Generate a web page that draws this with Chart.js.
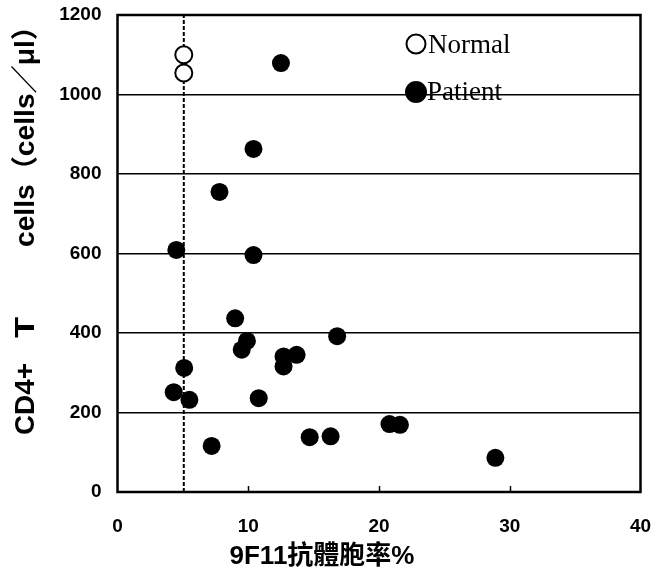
<!DOCTYPE html>
<html>
<head>
<meta charset="utf-8">
<script src="https://cdn.jsdelivr.net/npm/chart.js@4.4.1/dist/chart.umd.min.js"></script>
<style>
  html, body { margin: 0; padding: 0; background: #fff; }
  #c { display: block; }
</style>
</head>
<body>
<canvas id="c" width="651" height="583"></canvas>
<script>
// ---- data ----
const normalX = [5.07, 5.07];
const normalY = [1100, 1054];

const patientX = [12.5, 10.4, 7.8, 4.5, 10.4, 9.0, 9.9, 9.5, 12.7, 13.7, 12.7, 16.8, 5.1, 4.3, 5.5, 10.8, 7.2, 14.7, 16.3, 20.8, 21.6, 28.9];
const patientY = [1079, 863, 755, 609, 596, 437, 380, 358, 341, 345, 316, 392, 312, 251, 232, 236, 116, 138, 140, 171, 169, 86];

const cutoffX = 5.07;          // dashed vertical line
const xTicks = [0, 10, 20, 30, 40];
const yTicks = [0, 200, 400, 600, 800, 1000, 1200];

const xTitle = "9F11抗體胞率%";
const yTitleParts = ["CD4+", "T", "cells\uFF08cells\uFF0F\u03BCl\uFF09"];
const legendNames = ["Normal", "Patient"];

const toPts = (xs, ys) => xs.map((x, i) => ({ x: x, y: ys[i] }));

// draw text rotated, squeezed/stretched to a given length
function vText(c, txt, cx, yFrom, yTo) {
  const w = c.measureText(txt).width;
  const len = yFrom - yTo;
  c.save();
  c.translate(cx, (yFrom + yTo) / 2);
  c.rotate(-Math.PI / 2);
  c.scale(len / w, 1);
  c.fillText(txt, 0, 0);
  c.restore();
}

// frame, inner ticks, titles and the in-plot legend
const decor = {
  id: "decor",
  afterDraw(chart) {
    const c = chart.ctx;
    const a = chart.chartArea;
    const xs = chart.scales.x;
    c.save();
    c.strokeStyle = "#000";
    c.lineWidth = 2.5;
    c.strokeRect(a.left, a.top, a.right - a.left, a.bottom - a.top);

    // short inward ticks on the bottom axis
    c.lineWidth = 1.5;
    xTicks.slice(1, -1).forEach(v => {
      const px = Math.round(xs.getPixelForValue(v)) + 0.5;
      c.beginPath();
      c.moveTo(px, a.bottom);
      c.lineTo(px, a.bottom - 6);
      c.stroke();
    });

    // x title
    c.fillStyle = "#000";
    c.textAlign = "center";
    c.textBaseline = "middle";
    c.font = "bold 26px 'Liberation Sans', 'Noto Sans CJK TC', sans-serif";
    c.fillText(xTitle, 322, 557);

    // y title, in three pieces as spaced in the original
    c.font = "bold 27px 'Liberation Sans', 'Noto Sans CJK JP', sans-serif";
    vText(c, yTitleParts[0], 27, 435, 363);
    vText(c, yTitleParts[1], 27, 338, 317);
    vText(c, yTitleParts[2], 27, 247, 12);

    // legend
    c.textAlign = "left";
    c.textBaseline = "alphabetic";
    c.font = "27px 'Liberation Serif', serif";
    c.lineWidth = 2;
    c.beginPath();
    c.arc(416, 44, 9.5, 0, Math.PI * 2);
    c.fillStyle = "#fff";
    c.fill();
    c.stroke();
    c.fillStyle = "#000";
    c.fillText(legendNames[0], 428, 53);

    c.beginPath();
    c.arc(416, 92, 11, 0, Math.PI * 2);
    c.fill();
    c.fillText(legendNames[1], 427, 100);
    c.restore();
  }
};

const tickFont = { family: "'Liberation Sans', Arial, sans-serif", size: 19, weight: "bold" };

new Chart(document.getElementById("c"), {
  type: "scatter",
  data: {
    datasets: [
      {
        label: legendNames[1],
        data: toPts(patientX, patientY),
        backgroundColor: "#000",
        borderColor: "#000",
        pointRadius: 9,
        borderWidth: 0,
        order: 1
      },
      {
        label: legendNames[0],
        data: toPts(normalX, normalY),
        backgroundColor: "#fff",
        borderColor: "#000",
        pointRadius: 8.5,
        borderWidth: 2,
        order: 2
      },
      {
        type: "line",
        label: "cutoff",
        data: [{ x: cutoffX, y: yTicks[0] }, { x: cutoffX, y: yTicks[yTicks.length - 1] }],
        borderColor: "#000",
        borderWidth: 2,
        borderDash: [4, 2],
        pointRadius: 0,
        order: 3
      }
    ]
  },
  options: {
    responsive: false,
    animation: false,
    layout: { padding: { top: 15, right: 9, left: 0, bottom: 0 } },
    plugins: { legend: { display: false }, tooltip: { enabled: false } },
    scales: {
      x: {
        type: "linear",
        min: xTicks[0],
        max: xTicks[xTicks.length - 1],
        afterBuildTicks: s => { s.ticks = xTicks.map(v => ({ value: v })); },
        afterFit: s => { s.height = 91; s.paddingLeft = 0; s.paddingRight = 0; },
        grid: { display: false },
        border: { display: false },
        ticks: {
          color: "#000",
          padding: 15,
          font: tickFont,
          callback: v => String(v)
        }
      },
      y: {
        type: "linear",
        min: yTicks[0],
        max: yTicks[yTicks.length - 1],
        afterBuildTicks: s => { s.ticks = yTicks.map(v => ({ value: v })); },
        afterFit: s => { s.width = 117.5; s.paddingTop = 0; s.paddingBottom = 0; },
        grid: { color: "#000", lineWidth: 1.5, drawTicks: false },
        border: { display: false },
        ticks: {
          color: "#000",
          padding: 16,
          font: tickFont,
          callback: v => String(v)
        }
      }
    }
  },
  plugins: [decor]
});
</script>
</body>
</html>
